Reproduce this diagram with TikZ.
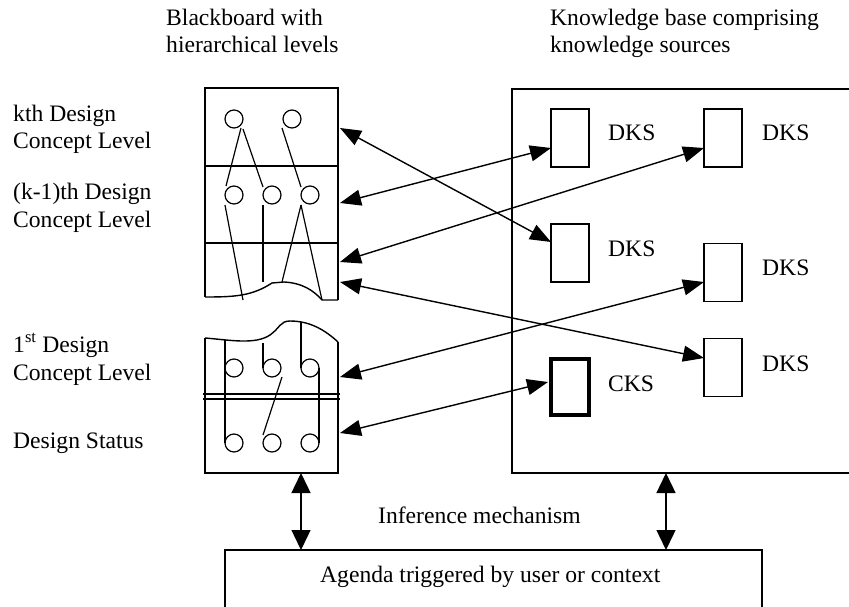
\documentclass[tikz,border=0pt]{standalone}
\usepackage{fontspec}
\setmainfont{Liberation Serif}
\usetikzlibrary{arrows.meta}
\tikzset{
  lbl/.style={anchor=base west, inner sep=0pt, font=\fontsize{23.6}{28}\selectfont, align=left},
  ks/.style={draw, line width=1.4pt, minimum width=38pt, minimum height=58pt, inner sep=0pt},
  cks/.style={draw, line width=4pt, minimum width=38pt, minimum height=56pt, inner sep=0pt},
  link/.style={line width=1.4pt, {Triangle[length=21pt,width=16pt]}-{Triangle[length=21pt,width=16pt]}},
  vlink/.style={line width=1.4pt, {Triangle[length=20pt,width=19pt]}-{Triangle[length=20pt,width=19pt]}},
  bb/.style={line width=1.4pt},
  thin/.style={line width=1.2pt},
  blob/.style={draw, circle, line width=1.2pt, minimum size=18pt, inner sep=0pt}
}
\begin{document}
\begin{tikzpicture}[x=1pt,y=-1pt]
\useasboundingbox (0,0) rectangle (849,607);
\clip (0,0) rectangle (849,607);
% titles
\node[lbl] (t1) at (166,26) {Blackboard with};
\node[lbl] (t2) at (166,53) {hierarchical levels};
\node[lbl] (t3) at (550,26) {Knowledge base comprising};
\node[lbl] (t4) at (550,53) {knowledge sources};
% left labels
\node[lbl] (l1) at (13,122) {kth Design};
\node[lbl] (l2) at (13,149) {Concept Level};
\node[lbl] (l3) at (13,199) {(k-1)th Design};
\node[lbl] (l4) at (13,227) {Concept Level};
\node[lbl] (l5) at (13,352) {1\textsuperscript{st} Design};
\node[lbl] (l6) at (13,380) {Concept Level};
\node[lbl] (l7) at (13,448) {Design Status};
% upper blackboard
\draw[bb] (205,297) -- (205,88) -- (338,88) -- (338,300);
\draw[bb] (205,166) -- (338,166);
\draw[bb] (205,243) -- (338,243);
\draw[bb] (205,297) .. controls (235,297) and (252,296) .. (272,283) -- (284,282) .. controls (303,283) and (314,291) .. (322,300) -- (338,300);
\node[blob] (u1) at (234,119) {};
\node[blob] (u2) at (292,119) {};
\node[blob] (m1) at (234,195) {};
\node[blob] (m2) at (272,195) {};
\node[blob] (m3) at (310,195) {};
\draw[thin] (241,128) -- (226,186);
\draw[thin] (243,129) -- (263,187);
\draw[thin] (282,128) -- (301,187);
\draw[thin] (225,205) -- (243,300);
\draw[thin] (263,205) -- (263,282);
\draw[thin] (301,205) -- (282,282);
\draw[thin] (301,205) -- (322,300);
% lower blackboard
\draw[bb] (205,338) -- (205,473) -- (338,473) -- (338,342);
\draw[bb] (205,338) .. controls (230,340) and (255,345) .. (270,335) .. controls (280,328) and (280,321) .. (290,321) .. controls (310,321) and (325,330) .. (338,342);
\draw[line width=1.8pt] (203,394) -- (340,394);
\draw[line width=1.8pt] (203,399) -- (340,399);
\node[blob] (s1) at (234,368) {};
\node[blob] (s2) at (272,368) {};
\node[blob] (s3) at (310,368) {};
\node[blob] (b1) at (234,443) {};
\node[blob] (b2) at (272,443) {};
\node[blob] (b3) at (310,443) {};
\draw[thin] (225,340) -- (225,443);
\draw[thin] (263,343) -- (263,368);
\draw[thin] (301,322) -- (301,368);
\draw[thin] (319,368) -- (319,443);
\draw[thin] (282,377) -- (263,435);
% knowledge base
\draw[bb] (860,473) -- (512,473) -- (512,89) -- (860,89);
\node[ks] (d1) at (570,138) {};
\node[ks] (d2) at (723,138) {};
\node[ks] (d3) at (570,253) {};
\node[ks] (d4) at (723,272.5) {};
\node[ks] (d5) at (723,367.5) {};
\node[cks] (c1) at (570,387) {};
\node[lbl] (n1) at (608,141) {DKS};
\node[lbl] (n2) at (762,141) {DKS};
\node[lbl] (n3) at (608,256) {DKS};
\node[lbl] (n4) at (762,275) {DKS};
\node[lbl] (n5) at (762,371) {DKS};
\node[lbl] (n6) at (608,391) {CKS};
% endpoints
\coordinate (p1) at (340,128);
\coordinate (p2) at (340,203);
\coordinate (p3) at (340,262);
\coordinate (p4) at (340,282);
\coordinate (p5) at (340,377);
\coordinate (p6) at (340,433);
\coordinate (q1) at (551,242);
\coordinate (q2) at (551,148);
\coordinate (q3) at (704,148);
\coordinate (q4) at (704,358);
\coordinate (q5) at (704,282);
\coordinate (q6) at (548,382);
\draw[link] (p1) -- (q1);
\draw[link] (p2) -- (q2);
\draw[link] (p3) -- (q3);
\draw[link] (p4) -- (q4);
\draw[link] (p5) -- (q5);
\draw[link] (p6) -- (q6);
% agenda
\node[lbl] (inf) at (378,523) {Inference mechanism};
\draw[bb] (225,612) -- (225,550) -- (762,550) -- (762,612);
\node[lbl] (ag) at (320,582) {Agenda triggered by user or context};
\coordinate (v1a) at (301,473);
\coordinate (v1b) at (301,550);
\coordinate (v2a) at (666,473);
\coordinate (v2b) at (666,550);
\draw[vlink] (v1a) -- (v1b);
\draw[vlink] (v2a) -- (v2b);
\end{tikzpicture}
\end{document}
